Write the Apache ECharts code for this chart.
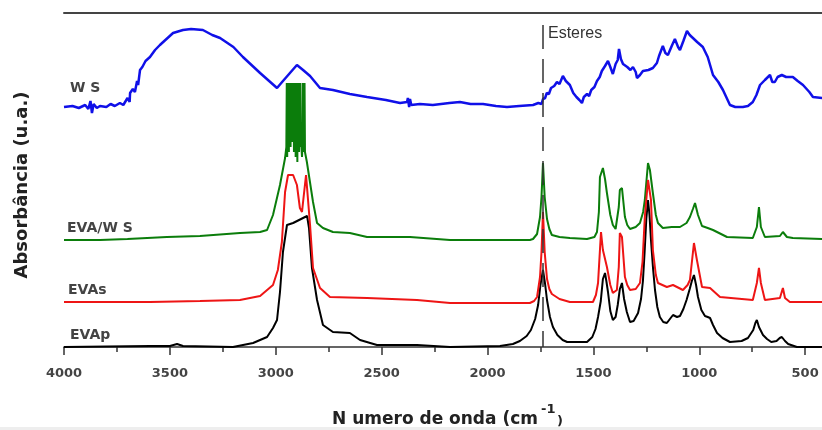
<!DOCTYPE html>
<html><head><meta charset="utf-8">
<script src="https://cdn.jsdelivr.net/npm/echarts@6/dist/echarts.min.js"></script>
<style>html,body{margin:0;padding:0;background:#fff}#c{width:822px;height:430px}</style>
</head><body><div id="c"></div>
<script>
// x: wavenumber (cm-1), y: absorbance in arbitrary stacked units
var xTicks = [500, 1000, 1500, 2000, 2500, 3000, 3500, 4000];
var seriesNames = ['EVAp', 'EVAs', 'EVA/W S', 'W S'];
var esteresWn = 1738;

var ws = [[4000,240],[3960,241],[3930,239],[3900,242],[3885,238],[3875,246],[3868,234],[3860,243],[3845,239],[3830,241],[3800,240],[3780,243],[3760,241],[3736,244],[3720,242],[3700,249],[3690,245],[3688,254],[3675,258],[3665,255],[3655,266],[3650,262],[3641,277],[3630,280],[3615,286],[3594,290],[3570,297],[3547,302],[3485,314],[3438,317],[3400,318],[3344,317],[3300,312],[3263,309],[3200,300],[3155,290],[3074,274],[2994,259],[2970,265],[2933,274],[2900,282],[2871,277],[2838,271],[2791,259],[2730,257],[2650,253],[2569,250],[2480,247],[2413,244],[2380,245],[2376,249],[2370,240],[2366,248],[2360,242],[2319,243],[2258,242],[2180,244],[2130,245],[2080,243],[2021,243],[1960,241],[1908,240],[1850,241],[1785,242],[1760,244],[1745,243],[1738,248],[1728,249],[1720,254],[1710,253],[1700,259],[1685,261],[1672,265],[1660,263],[1644,271],[1630,266],[1611,262],[1595,254],[1580,250],[1566,247],[1554,244],[1545,250],[1530,253],[1520,251],[1510,257],[1495,260],[1483,266],[1470,270],[1460,276],[1445,281],[1431,286],[1420,280],[1408,273],[1395,283],[1385,287],[1379,298],[1370,288],[1360,283],[1340,280],[1325,277],[1313,280],[1300,275],[1294,269],[1280,272],[1266,276],[1240,277],[1219,279],[1200,284],[1190,291],[1172,301],[1160,294],[1148,292],[1130,301],[1115,308],[1100,300],[1091,297],[1075,306],[1058,316],[1045,312],[1030,309],[1010,305],[983,300],[960,290],[935,272],[910,265],[888,257],[855,242],[830,240],[794,240],[770,241],[747,245],[730,252],[713,262],[690,267],[666,272],[655,265],[643,265],[630,270],[610,272],[590,270],[558,270],[535,266],[510,262],[480,255],[463,250],[420,249],[400,249]];

var evaWs = [[4000,107],[3830,107],[3700,108],[3514,110],[3358,111],[3169,114],[3074,115],[3041,117],[3013,132],[2980,162],[2956,189],
[2950,200],[2948,264],[2946,190],[2944,264],[2942,215],[2940,264],[2938,195],[2936,264],[2934,220],[2932,264],[2930,200],[2928,264],[2926,230],[2924,264],[2922,205],[2920,264],[2918,225],[2916,264],[2914,195],[2912,264],[2910,210],[2908,264],[2906,190],[2904,264],[2902,200],[2900,264],[2898,185],[2896,264],[2894,205],[2892,264],[2890,195],[2888,264],[2886,215],[2884,264],[2882,200],[2880,205],[2876,190],[2874,200],[2872,264],[2870,195],[2868,264],[2866,205],[2864,264],[2862,195],
[2853,185],[2824,145],[2805,124],[2777,119],[2730,115],[2650,114],[2569,110],[2366,110],[2177,107],[1800,107],[1785,108],[1766,113],[1752,130],[1745,150],[1738,184],[1730,150],[1719,128],[1708,118],[1696,112],[1660,110],[1611,109],[1530,108],[1495,110],[1483,115],[1474,135],[1469,170],[1455,179],[1445,168],[1436,154],[1420,132],[1408,122],[1395,118],[1389,119],[1380,140],[1375,157],[1365,159],[1351,130],[1340,122],[1327,118],[1300,120],[1280,124],[1265,135],[1257,147],[1242,184],[1233,177],[1219,154],[1205,132],[1195,124],[1172,119],[1130,120],[1091,120],[1060,124],[1044,130],[1030,138],[1020,144],[1006,132],[987,121],[960,119],[935,117],[869,110],[747,109],[728,120],[718,140],[709,120],[690,110],[619,111],[605,115],[586,110],[558,109],[420,108],[400,108]];

var evas = [[4000,45],[3594,45],[3358,46],[3169,47],[3074,51],[3013,62],[2990,77],[2971,105],[2956,155],[2942,172],[2918,172],[2900,162],[2886,139],[2876,135],[2871,145],[2857,172],[2848,172],[2838,122],[2824,79],[2791,59],[2744,50],[2569,49],[2333,47],[2177,44],[1800,44],[1780,46],[1766,50],[1752,70],[1745,95],[1738,135],[1730,95],[1719,68],[1708,58],[1696,53],[1660,48],[1611,45],[1502,45],[1488,52],[1478,64],[1464,115],[1455,97],[1436,80],[1420,62],[1408,54],[1389,57],[1380,80],[1375,114],[1365,110],[1351,70],[1340,62],[1327,57],[1300,58],[1280,64],[1268,85],[1257,130],[1242,167],[1228,147],[1219,97],[1205,72],[1195,64],[1153,60],[1124,62],[1077,57],[1055,62],[1044,67],[1025,104],[1011,87],[987,60],[949,59],[902,50],[747,47],[728,64],[718,79],[709,64],[690,47],[619,49],[605,59],[595,49],[572,45],[420,45],[400,45]];

var evap = [[4000,0],[3594,1],[3500,1],[3466,3],[3438,1],[3202,0],[3107,4],[3041,10],[3013,19],[2994,27],[2980,55],[2966,95],[2947,122],[2918,124],[2871,129],[2852,131],[2843,119],[2829,79],[2805,47],[2777,22],[2730,15],[2650,14],[2602,7],[2522,2],[2333,2],[2177,0],[1941,1],[1880,3],[1847,6],[1815,11],[1795,17],[1775,28],[1761,42],[1750,62],[1738,77],[1728,63],[1719,47],[1705,30],[1691,20],[1670,12],[1645,7],[1624,5],[1530,5],[1505,10],[1490,18],[1478,30],[1465,46],[1455,68],[1445,74],[1438,65],[1431,55],[1420,36],[1408,27],[1395,30],[1385,42],[1375,58],[1365,64],[1355,48],[1342,35],[1327,25],[1310,26],[1289,34],[1275,48],[1266,66],[1258,95],[1250,128],[1242,147],[1235,132],[1228,107],[1218,78],[1209,57],[1198,40],[1186,30],[1170,25],[1153,24],[1135,29],[1124,32],[1105,30],[1091,31],[1075,38],[1060,47],[1045,58],[1035,66],[1025,72],[1015,62],[1006,50],[990,37],[973,31],[960,30],[949,29],[935,22],[916,14],[890,9],[855,5],[800,6],[770,9],[745,17],[735,24],[728,27],[718,20],[699,12],[680,8],[660,5],[635,6],[620,9],[610,10],[595,6],[580,3],[572,2],[539,0],[420,0],[400,0]];

var chart = echarts.init(document.getElementById('c'), null, {renderer: 'canvas'});
var tickFont = {fontFamily: 'DejaVu Sans', fontWeight: 'bold', fontSize: 13, color: '#444'};
function line(name, data, color, width) {
  return {name: name, type: 'line', data: data, showSymbol: false, symbol: 'none',
    lineStyle: {color: color, width: width}, itemStyle: {color: color}, silent: true, z: 3};
}
var sBlack = line(seriesNames[0], evap, '#000000', 2);
sBlack.markLine = {silent: true, symbol: 'none', label: {show: false},
  lineStyle: {type: [24, 10], color: '#333', width: 1.5},
  data: [[{coord: [esteresWn, 322]}, {coord: [esteresWn, 0]}]]};
chart.setOption({
  animation: false,
  backgroundColor: '#ffffff',
  grid: {left: 64, top: 13, width: 847, bottom: 83, outerBoundsMode: 'none', containLabel: false},
  xAxis: [{
    type: 'value', inverse: true, min: 0, max: 4000, interval: 500, position: 'bottom',
    axisLine: {show: true, lineStyle: {color: '#333', width: 1.5}},
    axisTick: {show: true, length: 8, lineStyle: {color: '#333', width: 1.5}},
    minorTick: {show: true, splitNumber: 2, length: 5, lineStyle: {color: '#333', width: 1.5}},
    splitLine: {show: false},
    axisLabel: Object.assign({margin: 20, formatter: function (v) { return xTicks.indexOf(v) >= 0 ? String(v) : ''; }}, tickFont)
  }, {
    type: 'value', inverse: true, min: 0, max: 4000, position: 'top',
    axisLine: {show: true, lineStyle: {color: '#444', width: 2}},
    axisTick: {show: false}, axisLabel: {show: false}, splitLine: {show: false}
  }],
  yAxis: {type: 'value', min: 0, max: 334,
    axisLine: {show: true, lineStyle: {color: '#333', width: 1.5}},
    axisTick: {show: false}, axisLabel: {show: false}, splitLine: {show: false}},
  series: [
    sBlack,
    line(seriesNames[2], evaWs, '#0b7d0b', 2),
    line(seriesNames[1], evas, '#ee1515', 2),
    line(seriesNames[3], ws, '#1010e8', 2.5)
  ],
  graphic: [
    {type: 'rect', shape: {x: 0, y: 427, width: 822, height: 3}, style: {fill: '#eeeeee'}, silent: true},
    {type: 'text', x: 70, y: 88, style: {text: 'W S', font: 'bold 14px "DejaVu Sans"', fill: '#444', verticalAlign: 'middle'}},
    {type: 'text', x: 67, y: 228, style: {text: 'EVA/W S', font: 'bold 14px "DejaVu Sans"', fill: '#444', verticalAlign: 'middle'}},
    {type: 'text', x: 68, y: 290, style: {text: 'EVAs', font: 'bold 14px "DejaVu Sans"', fill: '#444', verticalAlign: 'middle'}},
    {type: 'text', x: 70, y: 335, style: {text: 'EVAp', font: 'bold 14px "DejaVu Sans"', fill: '#444', verticalAlign: 'middle'}},
    {type: 'text', x: 548, y: 34, style: {text: 'Esteres', font: '16px "Liberation Sans"', fill: '#333', verticalAlign: 'middle'}},
    {type: 'text', x: 332, y: 420, style: {text: 'N umero de onda (cm', font: 'bold 17px "DejaVu Sans"', fill: '#222', verticalAlign: 'middle'}},
    {type: 'text', x: 541, y: 410, style: {text: '-1', font: 'bold 13px "DejaVu Sans"', fill: '#222', verticalAlign: 'middle'}},
    {type: 'text', x: 557, y: 422, style: {text: ')', font: 'bold 13px "DejaVu Sans"', fill: '#222', verticalAlign: 'middle'}},
    {type: 'text', x: 22, y: 185, rotation: Math.PI / 2, style: {text: 'Absorbância (u.a.)', font: 'bold 18px "DejaVu Sans"', fill: '#222', align: 'center', verticalAlign: 'middle'}}
  ]
});
</script></body></html>
